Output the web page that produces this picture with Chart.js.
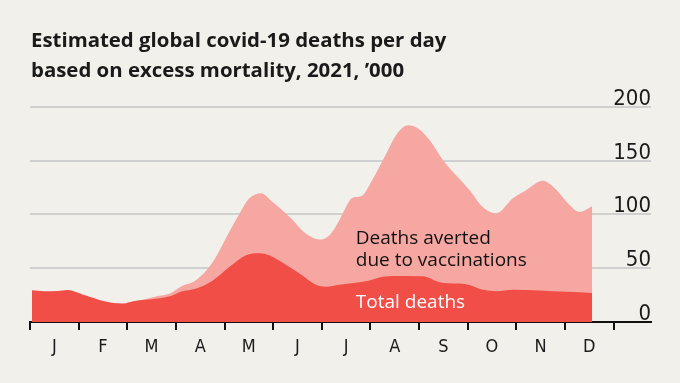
<!DOCTYPE html>
<html><head><meta charset="utf-8">
<script src="https://cdn.jsdelivr.net/npm/chart.js@4"></script>
<style>html,body{margin:0;padding:0;background:#f1f0eb;overflow:hidden}canvas{display:block}</style>
</head><body>
<canvas id="c" width="680" height="383"></canvas>
<script>
// ---- data (x = months since 1 Jan 2021) ----
const monthLabels = ['J','F','M','A','M','J','J','A','S','O','N','D'];
const yTickLabels = [0, 50, 100, 150, 200];
const titleLines = ['Estimated global covid-19 deaths per day', 'based on excess mortality, 2021, \u2019000'];
const seriesNames = ['Total deaths', 'Deaths averted', 'due to vaccinations'];

const totalX = [0.04,0.29,0.57,0.77,1.12,1.53,1.91,2.15,2.63,2.90,3.10,3.42,3.76,4.10,4.44,4.72,4.92,5.27,5.61,5.88,6.09,6.36,6.70,6.98,7.25,7.53,8.07,8.42,8.63,8.97,9.31,9.59,9.93,10.48,11.03,11.56];
const totalDeaths = [29.5,28.6,28.8,29.8,25.0,19.2,17.1,19.5,21.8,24.0,28.0,31.0,38.6,51.0,62.0,64.0,62.0,53.0,43.0,34.5,32.8,34.5,36.5,38.5,42.0,42.8,42.4,37.0,36.0,35.0,30.0,28.6,30.0,29.3,28.0,27.0];

const withoutVaccX = [2.00,2.35,2.63,2.90,3.11,3.42,3.76,4.10,4.31,4.51,4.75,4.99,5.34,5.68,5.95,6.16,6.36,6.43,6.64,6.81,7.05,7.32,7.53,7.77,7.98,8.22,8.49,8.77,9.04,9.31,9.59,9.93,10.20,10.55,10.76,11.10,11.30,11.56];
const withoutVaccDeaths = [18.0,21.0,24.0,27.0,33.0,39.0,55.8,84.0,101.0,115.0,119.8,111.5,97.7,82.0,76.6,80.7,94.6,101.0,115.8,117.0,133.0,156.0,174.0,183.0,180.0,169.0,150.6,136.0,122.6,107.0,101.0,115.0,122.6,131.3,125.7,108.6,102.4,107.7];

const RED = '#f04e46', PINK = '#f6a7a1', GRID = '#cfd0cf', INK = '#1b1b1b';
const NARROW = '"Liberation Sans Narrow","DejaVu Sans Condensed",sans-serif';

const textPlugin = {
  id: 'texts',
  afterDraw(chart) {
    const c = chart.ctx, ys = chart.scales.y, xs = chart.scales.x, ca = chart.chartArea;
    c.save();
    // title
    c.fillStyle = '#1a1a1a';
    c.font = 'bold 20.4px "Open Sans", sans-serif';
    c.textAlign = 'left'; c.textBaseline = 'alphabetic';
    c.fillText(titleLines[0], 31, 47);
    c.fillText(titleLines[1], 31, 76.5);
    // y labels above gridlines
    c.font = '22px ' + NARROW;
    c.textAlign = 'right';
    c.fillStyle = INK;
    yTickLabels.forEach(v => c.fillText(String(v), ca.right, ys.getPixelForValue(v) - 2));
    // annotations
    c.textAlign = 'left';
    c.font = '19px "Open Sans", sans-serif';
    c.fillStyle = '#111';
    const ax = xs.getPixelForValue(6.7);
    c.fillText(seriesNames[1], ax, ys.getPixelForValue(72.7));
    c.fillText(seriesNames[2], ax, ys.getPixelForValue(52.2));
    c.fillStyle = '#ffffff';
    c.fillText(seriesNames[0], ax, ys.getPixelForValue(12.8));
    c.restore();
  }
};

new Chart(document.getElementById('c'), {
  type: 'line',
  data: {
    datasets: [
      { label: seriesNames[0], data: totalX.map((x, i) => ({x, y: totalDeaths[i]})),
        backgroundColor: RED, borderWidth: 0, fill: 'origin', pointRadius: 0, cubicInterpolationMode: 'monotone' },
      { label: seriesNames[1] + ' ' + seriesNames[2], data: withoutVaccX.map((x, i) => ({x, y: withoutVaccDeaths[i]})),
        backgroundColor: PINK, borderWidth: 0, fill: 'origin', pointRadius: 0, cubicInterpolationMode: 'monotone' }
    ]
  },
  options: {
    responsive: false, animation: false, devicePixelRatio: 1,
    layout: { padding: { left: 30, right: 29, top: 107, bottom: 17.5 } },
    plugins: { legend: { display: false }, tooltip: { enabled: false }, title: { display: false } },
    scales: {
      x: {
        type: 'linear', min: 0, max: 12.77, z: 1,
        afterBuildTicks: s => { s.ticks = monthLabels.map((_, i) => ({ value: i + 0.5 })); },
        grid: { offset: true, drawOnChartArea: false, drawTicks: true, tickLength: 8, color: '#111', lineWidth: 2 },
        border: { display: true, color: '#111', width: 2 },
        ticks: { autoSkip: false, maxRotation: 0, padding: 7, color: INK,
                 font: { family: NARROW, size: 18 },
                 callback: (v, i) => monthLabels[i] }
      },
      y: {
        position: 'right', min: 0, max: 200,
        afterBuildTicks: s => { s.ticks = yTickLabels.map(v => ({ value: v })); },
        grid: { drawTicks: false, color: GRID, lineWidth: 2 },
        border: { display: false },
        ticks: { display: false }
      }
    }
  },
  plugins: [textPlugin]
});
</script>
</body></html>
